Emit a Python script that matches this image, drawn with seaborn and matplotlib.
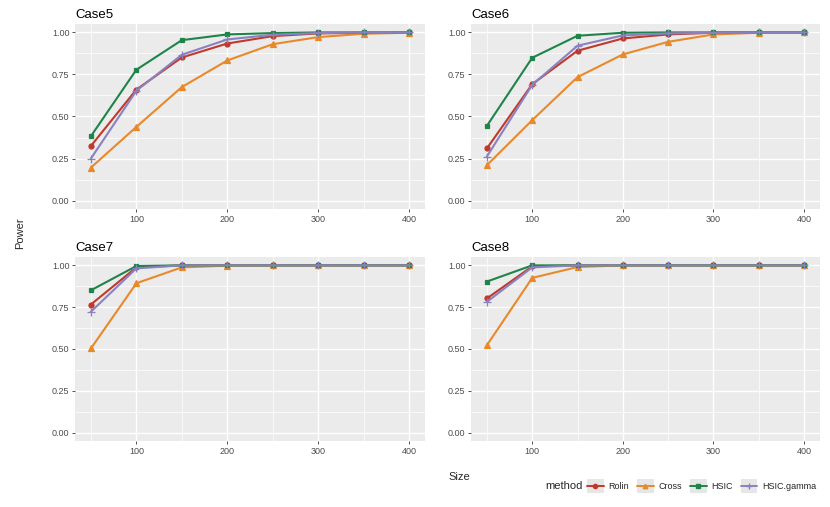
import matplotlib
matplotlib.use("Agg")
import matplotlib.pyplot as plt
from matplotlib.legend_handler import HandlerLine2D
from matplotlib.lines import Line2D
from matplotlib.patches import Rectangle
from matplotlib.ticker import MultipleLocator, FormatStrFormatter
import pandas as pd
import seaborn as sns

sizes = [50, 100, 150, 200, 250, 300, 350, 400]
methods = ["Rolin", "Cross", "HSIC", "HSIC.gamma"]
cases = ["Case5", "Case6", "Case7", "Case8"]

case5_rolin = [0.325, 0.66, 0.851, 0.934, 0.978, 0.994, 0.998, 1.0]
case5_cross = [0.196, 0.438, 0.675, 0.833, 0.93, 0.972, 0.992, 0.998]
case5_hsic = [0.383, 0.778, 0.954, 0.988, 0.996, 1.0, 1.0, 1.0]
case5_gamma = [0.25, 0.653, 0.867, 0.958, 0.986, 0.996, 1.0, 1.0]

case6_rolin = [0.31, 0.692, 0.891, 0.964, 0.988, 0.998, 1.0, 1.0]
case6_cross = [0.21, 0.478, 0.734, 0.869, 0.944, 0.988, 0.998, 1.0]
case6_hsic = [0.444, 0.849, 0.98, 0.998, 1.0, 1.0, 1.0, 1.0]
case6_gamma = [0.262, 0.688, 0.921, 0.982, 0.994, 0.998, 1.0, 1.0]

case7_rolin = [0.766, 0.988, 1.0, 1.0, 1.0, 1.0, 1.0, 1.0]
case7_cross = [0.503, 0.893, 0.988, 0.998, 1.0, 1.0, 1.0, 1.0]
case7_hsic = [0.851, 0.996, 1.0, 1.0, 1.0, 1.0, 1.0, 1.0]
case7_gamma = [0.723, 0.982, 1.0, 1.0, 1.0, 1.0, 1.0, 1.0]

case8_rolin = [0.802, 0.994, 1.0, 1.0, 1.0, 1.0, 1.0, 1.0]
case8_cross = [0.522, 0.925, 0.99, 1.0, 1.0, 1.0, 1.0, 1.0]
case8_hsic = [0.903, 1.0, 1.0, 1.0, 1.0, 1.0, 1.0, 1.0]
case8_gamma = [0.782, 0.988, 1.0, 1.0, 1.0, 1.0, 1.0, 1.0]

series = {
    "Case5": [case5_rolin, case5_cross, case5_hsic, case5_gamma],
    "Case6": [case6_rolin, case6_cross, case6_hsic, case6_gamma],
    "Case7": [case7_rolin, case7_cross, case7_hsic, case7_gamma],
    "Case8": [case8_rolin, case8_cross, case8_hsic, case8_gamma],
}

rows = []
for case, vals in series.items():
    for method, ys in zip(methods, vals):
        for s, p in zip(sizes, ys):
            rows.append({"case": case, "method": method, "size": s, "power": p})
df = pd.DataFrame(rows)

palette = {"Rolin": "#C0392B", "Cross": "#E8892A", "HSIC": "#1E8449", "HSIC.gamma": "#8A82C0"}
marker_map = {"Rolin": "o", "Cross": "^", "HSIC": "s", "HSIC.gamma": "+"}
marker_size = {"Rolin": 3.6, "Cross": 3.8, "HSIC": 3.4, "HSIC.gamma": 5.2}

sns.set_theme(style="darkgrid", rc={
    "axes.facecolor": "#EBEBEB",
    "grid.color": "white",
    "xtick.bottom": True,
    "ytick.left": True,
    "xtick.major.size": 2.5,
    "ytick.major.size": 2.5,
    "xtick.major.width": 0.6,
    "ytick.major.width": 0.6,
    "xtick.major.pad": 1.5,
    "ytick.major.pad": 1.5,
    "xtick.color": "#333333",
    "ytick.color": "#333333",
    "xtick.labelcolor": "#4D4D4D",
    "ytick.labelcolor": "#4D4D4D",
})
plt.rcParams["font.family"] = ["Liberation Sans", "DejaVu Sans"]

W, H = 830, 507
fig = plt.figure(figsize=(W / 100, H / 100), dpi=100)

# panel boxes in pixels: left, top, right, bottom
boxes = {
    "Case5": (75, 24, 425, 209),
    "Case6": (471, 24, 820, 209),
    "Case7": (75, 257, 425, 441),
    "Case8": (471, 257, 820, 441),
}

for case in cases:
    l, t, r, b = boxes[case]
    ax = fig.add_axes([l / W, 1 - b / H, (r - l) / W, (b - t) / H])
    sub = df[df["case"] == case]
    for m in methods:
        sns.lineplot(data=sub[sub["method"] == m], x="size", y="power",
                     color=palette[m], marker=marker_map[m], linewidth=1.5,
                     markersize=marker_size[m], markeredgecolor=palette[m],
                     markeredgewidth=0.9, ax=ax)
    ax.set_xlim(32.5, 417.5)
    ax.set_ylim(-0.05, 1.05)
    ax.xaxis.set_major_locator(MultipleLocator(100))
    ax.xaxis.set_minor_locator(MultipleLocator(50))
    ax.yaxis.set_major_locator(MultipleLocator(0.25))
    ax.yaxis.set_minor_locator(MultipleLocator(0.125))
    ax.yaxis.set_major_formatter(FormatStrFormatter("%.2f"))
    ax.grid(which="major", color="white", linewidth=1.0)
    ax.grid(which="minor", color="white", linewidth=0.5)
    ax.tick_params(which="minor", length=0)
    ax.tick_params(labelsize=6.5)
    ax.set_xlabel("")
    ax.set_ylabel("")
    for sp in ax.spines.values():
        sp.set_visible(False)
    ax.set_title(case, loc="left", fontsize=9.5, pad=4, color="black")

fig.text(20 / W, 1 - 233 / H, "Power", rotation=90, ha="center", va="center", fontsize=8)
fig.text(459 / W, 1 - 477 / H, "Size", ha="center", va="center", fontsize=8)


class BoxedLine(HandlerLine2D):
    # grey key background like ggplot, line centred in the box
    def create_artists(self, legend, orig_handle, xdescent, ydescent, width, height, fontsize, trans):
        box = Rectangle((-xdescent, -ydescent), width, height, facecolor="#E6E6E6",
                        edgecolor="none", transform=trans)
        arts = super().create_artists(legend, orig_handle, xdescent, ydescent, width, height, fontsize, trans)
        mid = height / 2 - ydescent
        for a in arts:
            a.set_ydata([mid] * len(a.get_xdata()))
        return [box] + list(arts)


handles = [Line2D([], [], color=palette[m], marker=marker_map[m], markersize=marker_size[m] - 0.6,
                  markeredgecolor=palette[m], linewidth=1.4) for m in methods]
leg = fig.legend(handles, methods, loc="center right", bbox_to_anchor=(816 / W, 1 - 486 / H),
                 ncol=4, frameon=False, fontsize=6.5, handlelength=1.85, handleheight=1.85,
                 handletextpad=0.5, columnspacing=0.9, numpoints=1, borderaxespad=0,
                 borderpad=0, handler_map={Line2D: BoxedLine()})
fig.canvas.draw()
bb = leg.get_window_extent().transformed(fig.transFigure.inverted())
fig.text(bb.x0 - 4 / W, 1 - 486 / H, "method", ha="right", va="center", fontsize=8)

fig.savefig("out.png", dpi=100)
